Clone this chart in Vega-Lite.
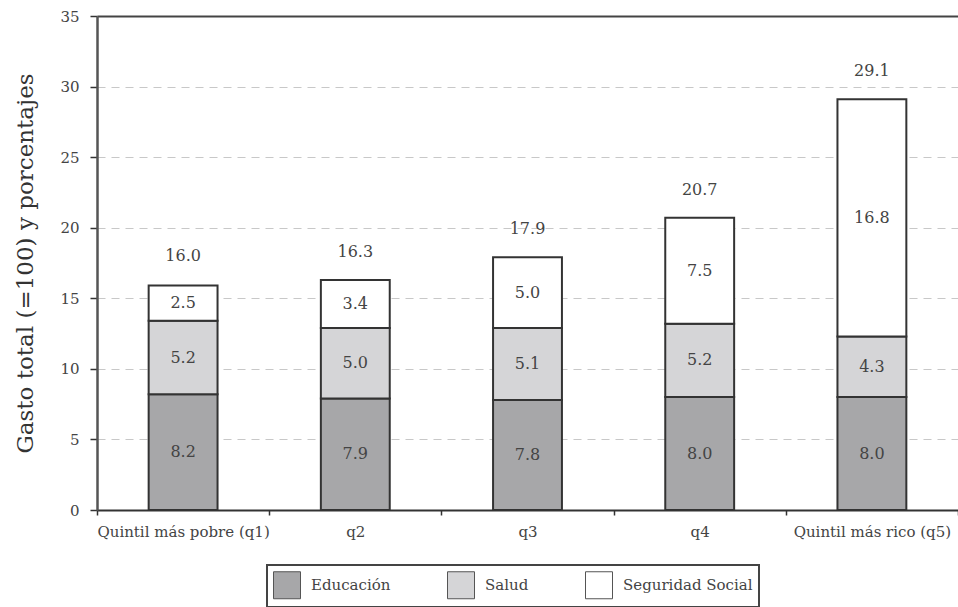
{
  "$schema": "https://vega.github.io/schema/vega-lite/v6.json",
  "autosize": "none",
  "width": 861,
  "height": 494,
  "padding": {"left": 97, "top": 16, "right": 0, "bottom": 97},
  "background": "white",
  "config": {"font": "DejaVu Serif", "view": {"stroke": null}},
  "datasets": {
    "comp": [
      {"quintil": "Quintil más pobre (q1)", "componente": "Educación", "valor": 8.2},
      {"quintil": "Quintil más pobre (q1)", "componente": "Salud", "valor": 5.2},
      {"quintil": "Quintil más pobre (q1)", "componente": "Seguridad Social", "valor": 2.5},
      {"quintil": "q2", "componente": "Educación", "valor": 7.9},
      {"quintil": "q2", "componente": "Salud", "valor": 5.0},
      {"quintil": "q2", "componente": "Seguridad Social", "valor": 3.4},
      {"quintil": "q3", "componente": "Educación", "valor": 7.8},
      {"quintil": "q3", "componente": "Salud", "valor": 5.1},
      {"quintil": "q3", "componente": "Seguridad Social", "valor": 5.0},
      {"quintil": "q4", "componente": "Educación", "valor": 8.0},
      {"quintil": "q4", "componente": "Salud", "valor": 5.2},
      {"quintil": "q4", "componente": "Seguridad Social", "valor": 7.5},
      {"quintil": "Quintil más rico (q5)", "componente": "Educación", "valor": 8.0},
      {"quintil": "Quintil más rico (q5)", "componente": "Salud", "valor": 4.3},
      {"quintil": "Quintil más rico (q5)", "componente": "Seguridad Social", "valor": 16.8}
    ],
    "tot": [
      {"quintil": "Quintil más pobre (q1)", "total": 16.0},
      {"quintil": "q2", "total": 16.3},
      {"quintil": "q3", "total": 17.9},
      {"quintil": "q4", "total": 20.7},
      {"quintil": "Quintil más rico (q5)", "total": 29.1}
    ]
  },
  "layer": [
    {
      "data": {"name": "comp"},
      "mark": {"type": "bar", "width": {"band": 0.4}, "stroke": "#333", "strokeWidth": 2},
      "encoding": {
        "x": {
          "field": "quintil", "type": "nominal",
          "sort": ["Quintil más pobre (q1)", "q2", "q3", "q4", "Quintil más rico (q5)"],
          "scale": {"paddingInner": 0, "paddingOuter": 0},
          "axis": {
            "title": null, "labelAngle": 0, "labelFont": "DejaVu Serif", "labelFontSize": 15, "labelColor": "#444",
            "tickBand": "extent", "tickSize": 5, "tickColor": "#333", "tickWidth": 1.5,
            "domainColor": "#333", "domainWidth": 2, "labelPadding": 9
          }
        },
        "y": {
          "field": "valor", "type": "quantitative", "stack": "zero",
          "scale": {"domain": [0, 35], "nice": false},
          "axis": {
            "title": "Gasto total (=100) y porcentajes",
            "titleFont": "DejaVu Serif", "titleFontSize": 23, "titleFontWeight": "normal", "titleColor": "#333", "titlePadding": 22,
            "values": [0, 5, 10, 15, 20, 25, 30, 35],
            "labelFont": "DejaVu Serif", "labelFontSize": 15, "labelColor": "#444", "labelPadding": 11,
            "tickSize": 7, "tickColor": "#333", "tickWidth": 1.5,
            "domainColor": "#555", "domainWidth": 2.5,
            "grid": true,
            "gridColor": {"condition": {"test": "datum.value === 35", "value": "#444"}, "value": "#c8c8c8"},
            "gridDash": {"condition": {"test": "datum.value === 35", "value": []}, "value": [8, 6]},
            "gridWidth": {"condition": {"test": "datum.value === 35", "value": 2}, "value": 1.2}
          }
        },
        "order": {"field": "componente", "sort": "ascending"},
        "color": {
          "field": "componente", "type": "nominal",
          "scale": {"domain": ["Educación", "Salud", "Seguridad Social"], "range": ["#a7a7a9", "#d5d5d7", "#ffffff"]},
          "legend": {
            "title": null, "orient": "none", "legendX": 170, "legendY": 549, "direction": "horizontal",
            "strokeColor": "#444", "padding": 6,
            "symbolType": "square", "symbolSize": 729, "symbolStrokeColor": "#555", "symbolStrokeWidth": 1,
            "labelFont": "DejaVu Serif", "labelFontSize": 15, "labelColor": "#444", "labelOffset": 10, "columnPadding": 54,
            "encode": {"legend": {"update": {"strokeWidth": {"value": 2}}}}
          }
        }
      }
    },
    {
      "data": {"name": "comp"},
      "transform": [
        {"stack": "valor", "groupby": ["quintil"], "sort": [{"field": "componente", "order": "ascending"}], "as": ["y0", "y1"]},
        {"fold": ["y0", "y1"], "as": ["borde", "pos"]}
      ],
      "mark": {"type": "text", "font": "DejaVu Serif", "fontSize": 16, "color": "#444"},
      "encoding": {
        "x": {"field": "quintil", "type": "nominal", "sort": ["Quintil más pobre (q1)", "q2", "q3", "q4", "Quintil más rico (q5)"]},
        "y": {"field": "pos", "aggregate": "mean", "type": "quantitative"},
        "detail": {"field": "componente"},
        "text": {"field": "valor", "aggregate": "max", "type": "quantitative", "format": ".1f"}
      }
    },
    {
      "data": {"name": "tot"},
      "mark": {"type": "text", "font": "DejaVu Serif", "fontSize": 16, "color": "#444", "dy": -28},
      "encoding": {
        "x": {"field": "quintil", "type": "nominal", "sort": ["Quintil más pobre (q1)", "q2", "q3", "q4", "Quintil más rico (q5)"]},
        "y": {"field": "total", "type": "quantitative"},
        "text": {"field": "total", "type": "quantitative", "format": ".1f"}
      }
    }
  ]
}
